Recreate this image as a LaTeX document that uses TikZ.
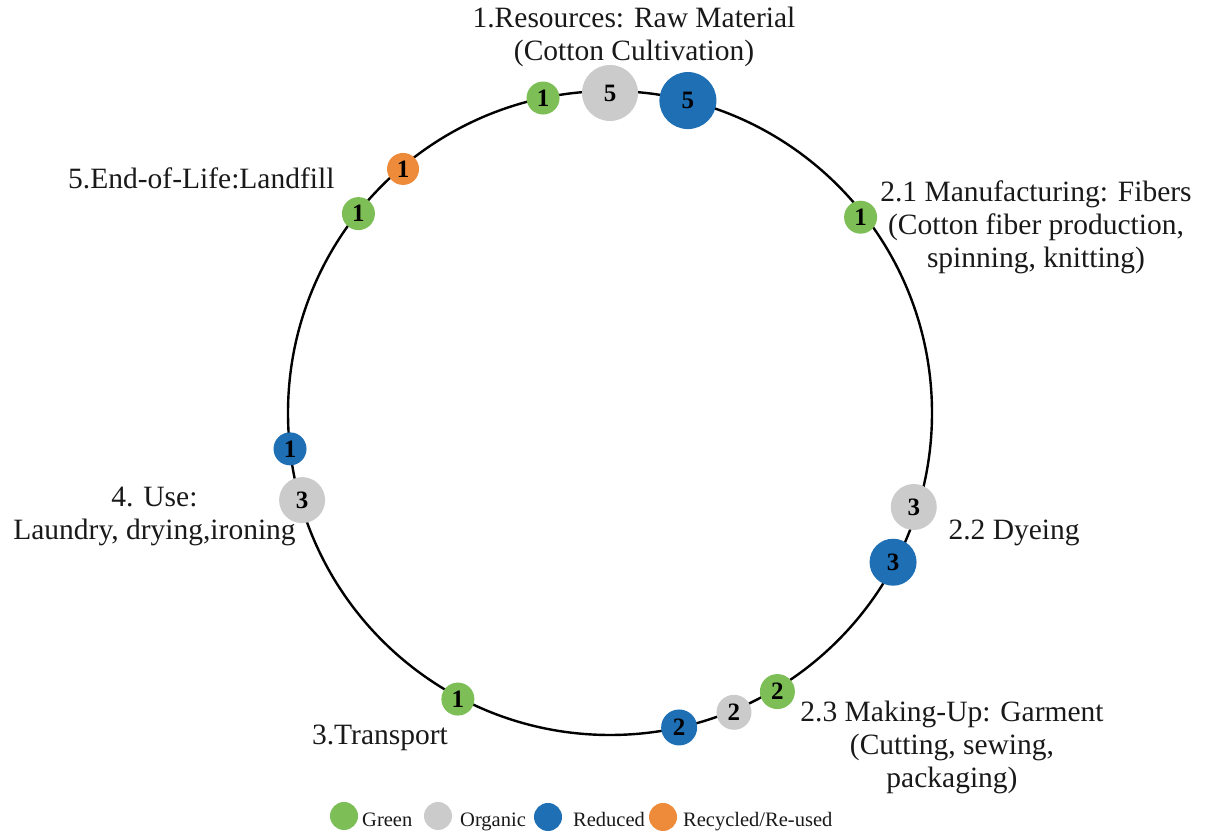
\documentclass[tikz,border=0pt]{standalone}
\usepackage{fontspec}
\setmainfont{Liberation Serif}
\definecolor{cgreen}{HTML}{7DBF56}
\definecolor{cgray}{HTML}{CACBCA}
\definecolor{cblue}{HTML}{1F6FB5}
\definecolor{corange}{HTML}{EE8B3A}
\tikzset{
  dot/.style={circle, inner sep=0pt, text=black,
    font=\fontsize{25}{25}\selectfont\bfseries},
  lbl/.style={align=center, text=black!90,
    font=\fontsize{29.5}{33}\selectfont},
  key/.style={circle, inner sep=0pt, minimum width=26pt, minimum height=28pt},
  keytxt/.style={anchor=base west, inner sep=0pt, text=black!90,
    font=\fontsize{20.5}{22}\selectfont},
}
\begin{document}
\begin{tikzpicture}[x=1pt,y=1pt]
  \useasboundingbox (0,0) rectangle (1205,837);
  \coordinate (c) at (610,424);
  % life-cycle ring
  \draw[line width=2.4pt] (c) circle[radius=322];

  % impact markers placed on the ring
  \node[dot, fill=cgreen, minimum size=33] (res-g) at ([shift={(102:322)}]c) {1};
  \node[dot, fill=cgray, minimum size=56] (res-o) at ([shift={(90:320)}]c) {5};
  \node[dot, fill=cblue, minimum size=57] (res-r) at ([shift={(76:322)}]c) {5};
  \node[dot, fill=corange, minimum size=32] (eol-c) at ([shift={(130.3:320)}]c) {1};
  \node[dot, fill=cgreen, minimum size=33] (eol-g) at ([shift={(141.6:321)}]c) {1};
  \node[dot, fill=cgreen, minimum size=33] (fib-g) at ([shift={(38:318)}]c) {1};
  \node[dot, fill=cblue, minimum size=33] (use-r) at ([shift={(186.4:322)}]c) {1};
  \node[dot, fill=cgray, minimum size=46] (use-o) at ([shift={(195.8:320)}]c) {3};
  \node[dot, fill=cgray, minimum size=46] (dye-o) at ([shift={(-17.2:318)}]c) {3};
  \node[dot, fill=cblue, minimum size=47] (dye-r) at ([shift={(-27.8:320)}]c) {3};
  \node[dot, fill=cgreen, minimum size=35] (mk-g) at ([shift={(-59:325)}]c) {2};
  \node[dot, fill=cgray, minimum size=35] (mk-o) at ([shift={(-67.5:324)}]c) {2};
  \node[dot, fill=cblue, minimum size=36] (mk-r) at ([shift={(-77.6:322)}]c) {2};
  \node[dot, fill=cgreen, minimum size=33] (tr-g) at ([shift={(-118:324)}]c) {1};

  % stage labels
  \node[lbl] (l-res) at (634,800) {1.Resources: Raw Material\\(Cotton Cultivation)};
  \node[lbl, anchor=east] (l-eol) at (338,659) {5.End-of-Life:Landfill};
  \node[lbl] (l-fib) at (1036,610) {2.1 Manufacturing: Fibers\\(Cotton fiber production,\\spinning, knitting)};
  \node[lbl, anchor=west] (l-dye) at (945,304) {2.2 Dyeing};
  \node[lbl] (l-use) at (154.5,321) {4. Use:\\Laundry, drying,ironing};
  \node[lbl] (l-mk) at (952,90) {2.3 Making-Up: Garment\\(Cutting, sewing,\\packaging)};
  \node[lbl] (l-tr) at (380,99) {3.Transport};

  % legend
  \node[key, fill=cgreen] (k-g) at (344,21) {};
  \node[keytxt] (k-gt) at (362,10.5) {Green};
  \node[key, fill=cgray] (k-o) at (438,21) {};
  \node[keytxt] (k-ot) at (460,10.5) {Organic};
  \node[key, fill=cblue] (k-r) at (548,20) {};
  \node[keytxt] (k-rt) at (573,10.5) {Reduced};
  \node[key, fill=corange] (k-c) at (663,20) {};
  \node[keytxt] (k-ct) at (683,10.5) {Recycled/Re-used};
\end{tikzpicture}
\end{document}
